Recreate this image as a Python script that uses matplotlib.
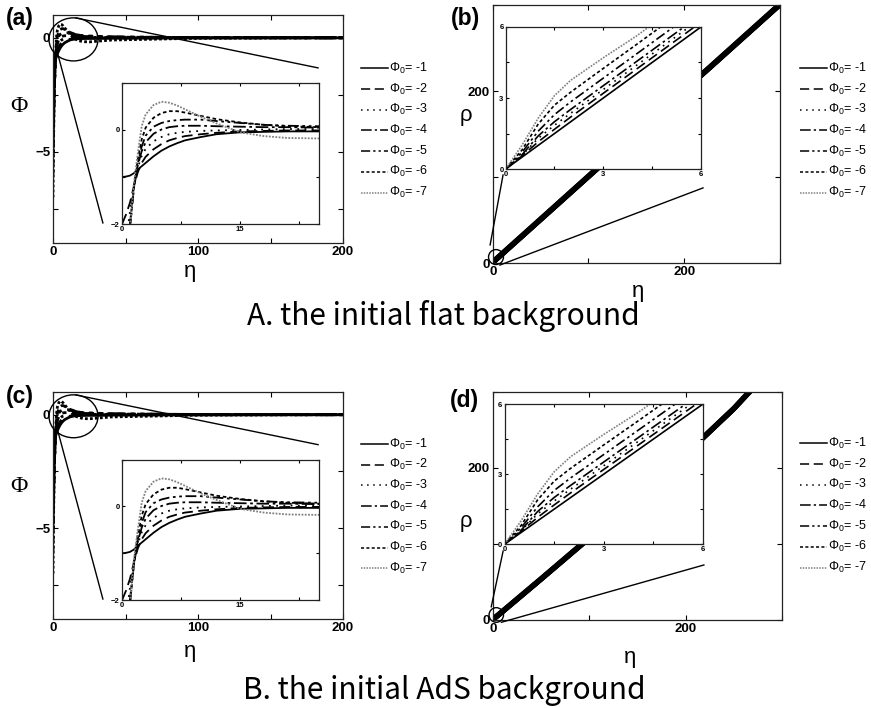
import matplotlib
matplotlib.use("Agg")
import matplotlib.pyplot as plt
from matplotlib.lines import Line2D
from matplotlib.patches import Ellipse
from matplotlib.ticker import MultipleLocator

plt.rcParams['font.family'] = ['Liberation Sans', 'DejaVu Sans']
plt.rcParams['mathtext.fontset'] = 'custom'
plt.rcParams['mathtext.rm'] = 'Liberation Sans'
plt.rcParams['mathtext.it'] = 'Liberation Sans:italic'

# initial values of the scalar field
phi0_values = [-1, -2, -3, -4, -5, -6, -7]
legend_labels = [r'$\Phi_0$= %d' % v for v in phi0_values]

# Phi(eta), one list per initial value
eta_phi = [0, 0.5, 1, 1.5, 2, 2.5, 3, 4, 5, 6, 7, 8, 10, 12, 15, 18, 21, 25, 40, 100, 200]
phi_curves = [
    [-1.0, -0.99, -0.97, -0.92, -0.84, -0.77, -0.70, -0.56, -0.44, -0.35, -0.28, -0.22, -0.15, -0.09, -0.05, -0.04, -0.03, -0.03, -0.02, -0.01, 0.0],
    [-2.0, -1.8, -1.55, -1.2, -0.9, -0.7, -0.57, -0.41, -0.30, -0.22, -0.17, -0.13, -0.09, -0.06, -0.03, -0.02, -0.01, -0.01, 0.0, 0.0, 0.0],
    [-3.0, -2.4, -1.75, -1.2, -0.8, -0.55, -0.40, -0.24, -0.15, -0.09, -0.06, -0.04, -0.02, -0.01, 0.0, 0.01, 0.02, 0.02, 0.01, 0.0, 0.0],
    [-4.0, -3.0, -2.0, -1.25, -0.75, -0.45, -0.26, -0.08, 0.01, 0.06, 0.08, 0.09, 0.09, 0.08, 0.07, 0.06, 0.06, 0.05, 0.03, 0.01, 0.0],
    [-5.0, -3.4, -2.1, -1.25, -0.7, -0.35, -0.12, 0.07, 0.15, 0.19, 0.21, 0.22, 0.22, 0.19, 0.15, 0.11, 0.09, 0.08, 0.04, 0.01, 0.0],
    [-6.0, -3.6, -2.1, -1.2, -0.62, -0.2, 0.05, 0.26, 0.36, 0.40, 0.40, 0.37, 0.30, 0.23, 0.16, 0.11, 0.08, 0.06, 0.03, 0.01, 0.0],
    [-7.0, -3.9, -2.1, -1.15, -0.5, 0.08, 0.33, 0.53, 0.60, 0.58, 0.52, 0.44, 0.28, 0.14, -0.05, -0.13, -0.17, -0.18, -0.10, -0.02, 0.0],
]

# rho(eta): near the origin (same for both backgrounds) and far out
eta_near = [0, 0.5, 1, 1.5, 2, 3, 4, 5, 6]
rho_near = [
    [0, 0.5, 1.0, 1.5, 2.0, 3.0, 4.0, 5.0, 6.0],
    [0, 0.55, 1.15, 1.68, 2.2, 3.2, 4.2, 5.2, 6.2],
    [0, 0.58, 1.3, 1.85, 2.36, 3.36, 4.36, 5.36, 6.36],
    [0, 0.6, 1.4, 2.0, 2.52, 3.52, 4.52, 5.52, 6.52],
    [0, 0.7, 1.6, 2.3, 2.84, 3.84, 4.84, 5.84, 6.84],
    [0, 0.8, 1.9, 2.7, 3.25, 4.25, 5.24, 6.24, 7.24],
    [0, 1.0, 2.15, 3.1, 3.75, 4.7, 5.6, 6.6, 7.6],
]
eta_far = [50, 100, 150, 200, 250, 300]
rho_far_flat = [
    [50.0, 100.0, 150.0, 200.0, 250.0, 300.0],
    [50.2, 100.2, 150.2, 200.2, 250.2, 300.2],
    [50.4, 100.4, 150.4, 200.4, 250.4, 300.4],
    [50.5, 100.5, 150.5, 200.5, 250.5, 300.5],
    [50.8, 100.8, 150.8, 200.8, 250.8, 300.8],
    [51.2, 101.2, 151.2, 201.2, 251.2, 301.2],
    [51.6, 101.6, 151.6, 201.6, 251.6, 301.6],
]
rho_far_ads = [
    [53.0, 107.0, 163.0, 217.0, 277.0, 345.0],
    [53.2, 107.2, 163.2, 217.2, 277.2, 345.2],
    [53.4, 107.4, 163.4, 217.4, 277.4, 345.4],
    [53.5, 107.5, 163.5, 217.5, 277.5, 345.5],
    [53.8, 107.8, 163.8, 217.8, 277.8, 345.8],
    [54.2, 108.2, 164.2, 218.2, 278.2, 346.2],
    [54.6, 108.6, 164.6, 218.6, 278.6, 346.6],
]

line_styles = ['-', (0, (6, 3)), (0, (1, 3)), (0, (7, 2, 1.5, 2)),
               (0, (6, 2, 1.5, 2, 1.5, 2)), (0, (2, 1.5)), (0, (1, 0.8))]
line_colors = ['black'] * 6 + ['#808080']

W, H = 871, 708
fig = plt.figure(figsize=(W / 100, H / 100), dpi=100)


def px_rect(l, t, r, b):
    return [l / W, 1 - b / H, (r - l) / W, (b - t) / H]


def fx(x):
    return x / W


def fy(y):
    return 1 - y / H


def style_axes(ax, labelsize):
    ax.tick_params(direction='in', top=True, right=True, which='both',
                   length=3.5, width=0.8, labelsize=labelsize, pad=2)
    for s in ax.spines.values():
        s.set_linewidth(0.9)
        s.set_color('#222222')
    for lab in ax.get_xticklabels() + ax.get_yticklabels():
        lab.set_fontweight('bold')


def draw_legend(x_line, y_top):
    for i, lab in enumerate(legend_labels):
        y = y_top + i * 20.7
        fig.add_artist(Line2D([fx(x_line), fx(x_line + 27)], [fy(y), fy(y)],
                              transform=fig.transFigure, color=line_colors[i],
                              ls=line_styles[i], lw=1.1))
        fig.text(fx(x_line + 28), fy(y), lab, fontsize=9, va='center', ha='left')


def phi_panel(rect, letter, letter_xy, ylab_xy, xlab_xy, legend_y):
    ax = fig.add_axes(px_rect(*rect))
    for i in range(7):
        ax.plot(eta_phi, phi_curves[i], color='black', ls=line_styles[i], lw=2.0)
    ax.set_xlim(0, 200)
    ax.set_ylim(-9, 1)
    ax.set_xticks([0, 100, 200])
    ax.set_yticks([-5, 0])
    ax.xaxis.set_minor_locator(MultipleLocator(50))
    ax.yaxis.set_minor_locator(MultipleLocator(2.5))
    style_axes(ax, 9.5)

    # zoom marker and connectors
    ax.add_patch(Ellipse((0.0707, 0.893), 0.169, 0.189, transform=ax.transAxes,
                         fill=False, lw=1.0, color='black', clip_on=False, zorder=3))
    ax.plot([0.079, 0.914], [0.987, 0.768], transform=ax.transAxes, color='black', lw=1.0, zorder=3)
    ax.plot([0.01, 0.172], [0.86, 0.088], transform=ax.transAxes, color='black', lw=1.0, zorder=3)

    ins = ax.inset_axes([0.238, 0.083, 0.679, 0.619])
    for i in range(7):
        ins.plot(eta_phi, phi_curves[i], color=line_colors[i], ls=line_styles[i], lw=1.3)
    ins.set_xlim(0, 25)
    ins.set_ylim(-2, 1)
    ins.set_xticks([0, 15])
    ins.set_yticks([-2, 0])
    ins.xaxis.set_minor_locator(MultipleLocator(7.5))
    ins.yaxis.set_minor_locator(MultipleLocator(1))
    style_axes(ins, 5.5)
    ins.tick_params(which='both', length=2.5, pad=1.5)

    fig.text(fx(letter_xy[0]), fy(letter_xy[1]), letter, fontsize=16.5, fontweight='bold',
             ha='left', va='center')
    fig.text(fx(ylab_xy[0]), fy(ylab_xy[1]), 'Φ', family='Liberation Serif', fontsize=17,
             ha='center', va='center')
    fig.text(fx(xlab_xy[0]), fy(xlab_xy[1]), 'η', fontsize=16, ha='center', va='center')
    draw_legend(361, legend_y)


def rho_panel(rect, inset_rect, circle, conn1, conn2, far_vals, letter, letter_xy,
              ylab_xy, xlab_xy, legend_y):
    ax = fig.add_axes(px_rect(*rect))
    # the seven curves coincide on this scale and merge into one thick line
    for i in range(7):
        ax.plot(eta_near + eta_far, rho_near[i] + far_vals[i], color='black',
                ls='-', lw=3.4, solid_capstyle='butt')
    ax.set_xlim(0, 300)
    ax.set_ylim(0, 300)
    ax.set_xticks([0, 200])
    ax.set_yticks([0, 200])
    ax.xaxis.set_minor_locator(MultipleLocator(100))
    ax.yaxis.set_minor_locator(MultipleLocator(100))
    style_axes(ax, 9.5)

    ax.add_patch(Ellipse(circle[:2], circle[2], circle[3], transform=ax.transAxes,
                         fill=False, lw=1.0, color='black', clip_on=False, zorder=3))
    ax.plot(conn1[0], conn1[1], transform=ax.transAxes, color='black', lw=1.0,
            clip_on=False, zorder=3)
    ax.plot(conn2[0], conn2[1], transform=ax.transAxes, color='black', lw=1.0,
            clip_on=False, zorder=3)

    ins = ax.inset_axes(inset_rect)
    for i in range(7):
        ins.plot(eta_near, rho_near[i], color=line_colors[i], ls=line_styles[i], lw=1.2)
    ins.set_xlim(0, 6)
    ins.set_ylim(0, 6)
    ins.set_xticks([0, 3, 6])
    ins.set_yticks([0, 3, 6])
    ins.xaxis.set_minor_locator(MultipleLocator(1.5))
    ins.yaxis.set_minor_locator(MultipleLocator(1.5))
    style_axes(ins, 5.5)
    ins.tick_params(which='both', length=2.5, pad=1.5)

    fig.text(fx(letter_xy[0]), fy(letter_xy[1]), letter, fontsize=16.5, fontweight='bold',
             ha='left', va='center')
    fig.text(fx(ylab_xy[0]), fy(ylab_xy[1]), 'ρ', fontsize=16, ha='center', va='center')
    fig.text(fx(xlab_xy[0]), fy(xlab_xy[1]), 'η', fontsize=16, ha='center', va='center')
    draw_legend(800, legend_y)


# A. flat background
phi_panel((53, 15, 343, 243), '(a)', (6, 18), (19, 107), (190, 272), 68.3)
rho_panel((492.7, 5, 780, 263), [0.045, 0.364, 0.680, 0.551],
          (0.0115, 0.023, 0.052, 0.058),
          ([-0.009, 0.036], [0.07, 0.341]), ([0.025, 0.732], [-0.008, 0.291]),
          rho_far_flat, '(b)', (451, 18), (466, 115), (638, 291), 68.3)
fig.text(0.509, fy(316), 'A. the initial flat background', family='Noto Sans CJK SC',
         fontsize=21.5, fontweight='medium', ha='center', va='center')

# B. AdS background
phi_panel((53, 392, 343, 619), '(c)', (6, 397), (19, 486), (190, 652), 444)
rho_panel((492.7, 391.7, 782, 620), [0.041, 0.332, 0.686, 0.614],
          (0.0124, 0.022, 0.05, 0.064),
          ([-0.005, 0.036], [0.058, 0.302]), ([0.030, 0.730], [-0.010, 0.241]),
          rho_far_ads, '(d)', (450, 400), (466, 522), (630, 658), 443.3)
fig.text(0.51, fy(691), 'B. the initial AdS background', family='Noto Sans CJK SC',
         fontsize=21.5, fontweight='medium', ha='center', va='center')

fig.savefig('out.png', dpi=100)
